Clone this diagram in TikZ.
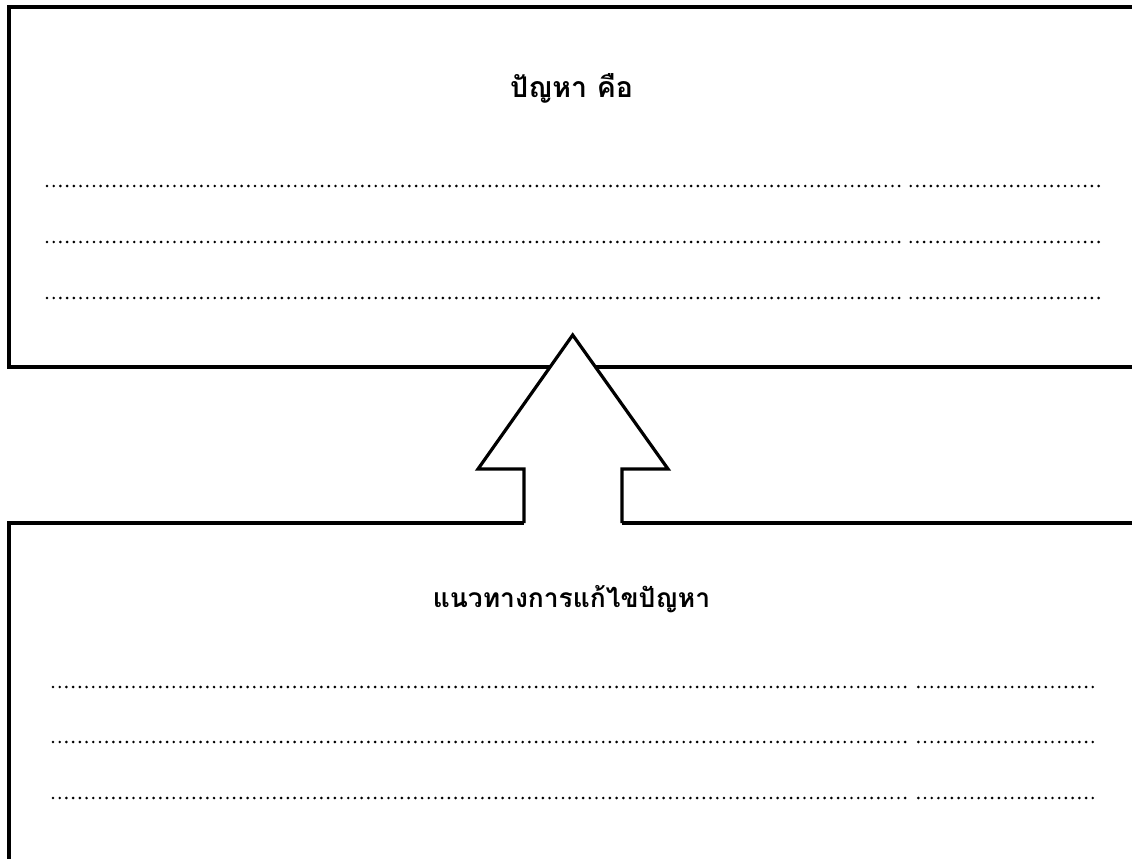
\documentclass[tikz,border=0pt]{standalone}
\usepackage{fontspec}
\newfontfamily\thaifont[Script=Thai]{Loma}
\begin{document}
\begin{tikzpicture}[x=1pt,y=-1pt,
  boxline/.style={line width=4pt,line join=miter,draw=black},
  arrowline/.style={line width=3.2pt,line join=miter,draw=black},
  dotline/.style={line width=2.9pt,line cap=round,dash pattern=on 0pt off 6.71pt},
  titletext/.style={font=\thaifont\bfseries,anchor=base,inner sep=0pt}]
\useasboundingbox (0,0) rectangle (1132,859);
\clip (0,0) rectangle (1132,859);
\fill[white] (0,0) rectangle (1132,859);
% top box
\draw[boxline] (1145,7) -- (9,7) -- (9,367) -- (1145,367);
% arrow
\coordinate (sl) at (524,523);
\coordinate (sr) at (622,523);
\coordinate (hl) at (524,469);
\coordinate (hr) at (622,469);
\coordinate (cl) at (478,469);
\coordinate (cr) at (668,469);
\coordinate (tip) at (572.7,335);
\fill[white] (sl) -- (hl) -- (cl) -- (tip) -- (cr) -- (hr) -- (sr) -- cycle;
\draw[arrowline] (sl) -- (hl) -- (cl) -- (tip) -- (cr) -- (hr) -- (sr);
% bottom box
\draw[boxline] (sl) -- (9,523) -- (9,870);
\draw[boxline] (sr) -- (1145,523);
% texts
\node[titletext,font=\thaifont\bfseries\fontsize{28.5}{34}\selectfont] (t1) at (571.5,97) {ปัญหา คือ};
\node[titletext,font=\thaifont\bfseries\fontsize{26.4}{32}\selectfont] (t2) at (571.5,607) {แนวทางการแก้ไขปัญหา};
% dotted lines, top box
\foreach \yy in {186,242,298}{
  \draw[dotline] (47,\yy) -- (901.5,\yy);
  \draw[dotline] (910.7,\yy) -- (1099,\yy);
}
% dotted lines, bottom box
\foreach \yy in {687,742,798}{
  \draw[dotline] (53,\yy) -- (908.5,\yy);
  \draw[dotline] (918.3,\yy) -- (1093,\yy);
}
\end{tikzpicture}
\end{document}
